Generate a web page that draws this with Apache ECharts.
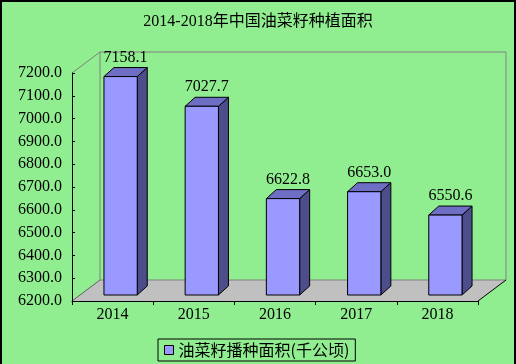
<!DOCTYPE html>
<html>
<head>
<meta charset="utf-8">
<script src="https://cdn.jsdelivr.net/npm/echarts@6/dist/echarts.min.js"></script>
<style>
html,body{margin:0;padding:0;background:#90EE90;}
#main{width:516px;height:364px;}
</style>
</head>
<body>
<div id="main"></div>
<script>
const categories = ['2014', '2015', '2016', '2017', '2018'];
const areaValues = [7158.1, 7027.7, 6622.8, 6653.0, 6550.6];
const seriesName = '油菜籽播种面积(千公顷)';
const titleText = '2014-2018年中国油菜籽种植面积';
const yMin = 6200, yMax = 7200, yStep = 100;

const FONT = "'Liberation Serif', 'Noto Sans CJK SC', serif";
const CJK = "'Noto Sans CJK SC', 'Liberation Serif', sans-serif";
// 3D geometry (pixels)
const DEPTH_X = 28, DEPTH_Y = 21;     // wall depth
const PLANE_X = 8, PLANE_Y = 6;       // bar plane offset from front
const BAR_DX = 10, BAR_DY = 9;        // bar depth

const chart = echarts.init(document.getElementById('main'), null, {renderer: 'canvas'});

function renderFloor(params, api) {
  const cs = params.coordSys;
  const x0 = cs.x, x1 = cs.x + cs.width, yT = cs.y, yB = cs.y + cs.height;
  return {
    type: 'group',
    children: [
      {type: 'polygon', shape: {points: [[x0, yB], [x1, yB], [x1 + DEPTH_X, yB - DEPTH_Y], [x0 + DEPTH_X, yB - DEPTH_Y]]},
       style: {fill: '#C0C0C0', stroke: null}},
      {type: 'line', shape: {x1: x0 + DEPTH_X, y1: yB - DEPTH_Y, x2: x1 + DEPTH_X, y2: yB - DEPTH_Y}, style: {stroke: '#808080', lineWidth: 1}},
      {type: 'line', shape: {x1: x0, y1: yB, x2: x0 + DEPTH_X, y2: yB - DEPTH_Y}, style: {stroke: '#606060', lineWidth: 1}},
      {type: 'line', shape: {x1: x1, y1: yB, x2: x1 + DEPTH_X, y2: yB - DEPTH_Y}, style: {stroke: '#000', lineWidth: 1}},
      {type: 'line', shape: {x1: x0 + DEPTH_X, y1: yT - DEPTH_Y, x2: x1 + DEPTH_X, y2: yT - DEPTH_Y}, style: {stroke: '#808080', lineWidth: 1}},
      {type: 'line', shape: {x1: x0 + DEPTH_X, y1: yT - DEPTH_Y, x2: x0 + DEPTH_X, y2: yB - DEPTH_Y}, style: {stroke: '#808080', lineWidth: 1}},
      {type: 'line', shape: {x1: x1 + DEPTH_X, y1: yT - DEPTH_Y, x2: x1 + DEPTH_X, y2: yB - DEPTH_Y}, style: {stroke: '#808080', lineWidth: 1}},
      {type: 'line', shape: {x1: x0, y1: yT, x2: x0 + DEPTH_X, y2: yT - DEPTH_Y}, style: {stroke: '#808080', lineWidth: 1}}
    ]
  };
}

function renderBar(params, api) {
  const idx = api.value(0);
  const val = api.value(1);
  const base = api.coord([idx, yMin]);
  const top = api.coord([idx, val]);
  const bw = api.size([1, 0])[0] * 0.41;
  const x0 = base[0] - bw / 2 + PLANE_X;
  const x1 = x0 + bw;
  const yb = base[1] - PLANE_Y;
  const yt = top[1] - PLANE_Y;
  return {
    type: 'group',
    children: [
      {type: 'polygon', shape: {points: [[x1, yt], [x1 + BAR_DX, yt - BAR_DY], [x1 + BAR_DX, yb - BAR_DY], [x1, yb]]},
       style: {fill: '#4D4D8C', stroke: '#000', lineWidth: 1}},
      {type: 'polygon', shape: {points: [[x0, yt], [x1, yt], [x1 + BAR_DX, yt - BAR_DY], [x0 + BAR_DX, yt - BAR_DY]]},
       style: {fill: '#6E6EC4', stroke: '#000', lineWidth: 1}},
      {type: 'rect', shape: {x: x0, y: yt, width: bw, height: yb - yt},
       style: {fill: '#9999FF', stroke: '#000', lineWidth: 1}},
      {type: 'text', x: x0 + (bw + BAR_DX) / 2, y: yt - 19,
       style: {text: val.toFixed(1), fill: '#000', font: '16px ' + FONT, textAlign: 'center', textVerticalAlign: 'middle'}}
    ]
  };
}

chart.setOption({
  backgroundColor: '#90EE90',
  animation: false,
  title: {
    text: titleText, left: 'center', top: 9,
    textStyle: {fontSize: 16, fontWeight: 'normal', color: '#000', fontFamily: FONT}
  },
  legend: {
    data: [{name: seriesName, icon: 'rect', itemStyle: {color: '#9999FF', borderColor: '#000', borderWidth: 1}}],
    left: 158, top: 339, padding: [3, 6, 3, 6],
    borderColor: '#000', borderWidth: 1,
    itemWidth: 9, itemHeight: 9,
    textStyle: {fontSize: 16, color: '#000', fontFamily: CJK}
  },
  graphic: [{
    type: 'rect', shape: {x: 1, y: 1, width: 514, height: 380},
    style: {fill: null, stroke: '#000', lineWidth: 2}, z: 100, silent: true
  }],
  grid: {left: 72, right: 38, top: 73, bottom: 63},
  xAxis: {
    type: 'category', data: categories, boundaryGap: true, z: 10,
    axisLine: {lineStyle: {color: '#000', width: 1}},
    axisTick: {show: true, length: 4, lineStyle: {color: '#000'}},
    axisLabel: {color: '#000', fontSize: 16, fontFamily: FONT, margin: 6},
    splitLine: {show: false}
  },
  yAxis: {
    type: 'value', min: yMin, max: yMax, interval: yStep, z: 10,
    axisLine: {show: true, lineStyle: {color: '#000', width: 1}},
    axisTick: {show: true, inside: true, length: 3, lineStyle: {color: '#000'}},
    axisLabel: {color: '#000', fontSize: 16, fontFamily: FONT, margin: 10,
      formatter: v => v.toFixed(1)},
    splitLine: {show: false}
  },
  series: [
    {type: 'custom', name: 'floor', renderItem: renderFloor, data: [[0, yMin]], z: 1, silent: true,
     encode: {x: 0, y: 1}},
    {type: 'custom', name: seriesName, renderItem: renderBar, z: 5,
     itemStyle: {color: '#9999FF'},
     data: categories.map((c, i) => [i, areaValues[i]]),
     encode: {x: 0, y: 1}}
  ]
});
</script>
</body>
</html>
